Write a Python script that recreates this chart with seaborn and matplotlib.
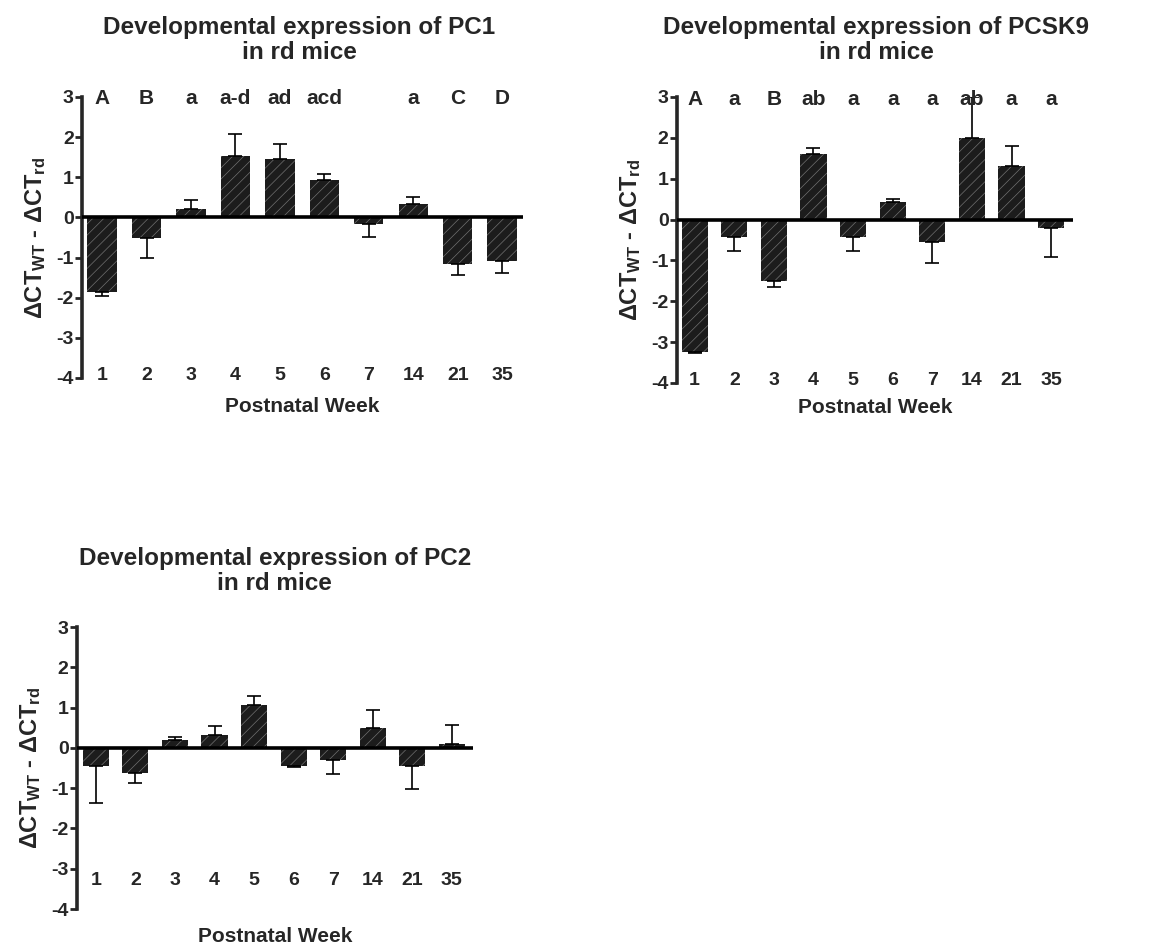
import matplotlib
matplotlib.use("Agg")
import matplotlib.pyplot as plt
import numpy as np
import pandas as pd
import seaborn as sns

weeks = ["1", "2", "3", "4", "5", "6", "7", "14", "21", "35"]

# PC1
pc1_mean = [-1.87, -0.52, 0.22, 1.52, 1.45, 0.92, -0.16, 0.33, -1.15, -1.09]
pc1_sem = [0.08, 0.48, 0.21, 0.55, 0.37, 0.15, 0.33, 0.19, 0.28, 0.30]
pc1_letters = ["A", "B", "a", "a-d", "ad", "acd", "", "a", "C", "D"]

# PCSK9
pcsk9_mean = [-3.23, -0.43, -1.50, 1.60, -0.42, 0.43, -0.56, 2.00, 1.32, -0.21]
pcsk9_sem = [0.03, 0.33, 0.16, 0.16, 0.34, 0.08, 0.50, 1.00, 0.47, 0.71]
pcsk9_letters = ["A", "a", "B", "ab", "a", "a", "a", "ab", "a", "a"]

# PC2
pc2_mean = [-0.45, -0.62, 0.19, 0.31, 1.07, -0.45, -0.31, 0.50, -0.44, 0.10]
pc2_sem = [0.91, 0.26, 0.08, 0.24, 0.23, 0.03, 0.33, 0.43, 0.59, 0.48]

sns.set_style("ticks")
plt.rcParams["font.family"] = ["Liberation Sans", "DejaVu Sans"]
plt.rcParams["font.weight"] = "bold"
plt.rcParams["axes.unicode_minus"] = False
plt.rcParams["mathtext.fontset"] = "custom"
plt.rcParams["mathtext.rm"] = "Liberation Sans:bold"
plt.rcParams["mathtext.bf"] = "Liberation Sans:bold"
plt.rcParams["mathtext.it"] = "Liberation Sans:bold"
plt.rcParams["hatch.linewidth"] = 0.5

fig = plt.figure(figsize=(11.59, 9.48), dpi=100)

ylab = r"$\Delta$CT$_{\mathbf{WT}}$ - $\Delta$CT$_{\mathbf{rd}}$"


def panel(rect, mean, sem, letters, title, title_xy, week_y, xlab_pad, xlim):
    ax = fig.add_axes(rect)
    df = pd.DataFrame({"week": weeks, "value": mean})
    sns.barplot(data=df, x="week", y="value", color="#1c1c1c", width=0.66,
                errorbar=None, ax=ax, saturation=1)
    for p in ax.patches:
        p.set_hatch("///")
        p.set_edgecolor("#707070")
        p.set_linewidth(0)
    m = np.array(mean)
    s = np.array(sem)
    lower = np.where(m < 0, s, 0)
    upper = np.where(m >= 0, s, 0)
    ax.errorbar(np.arange(len(weeks)), m, yerr=[lower, upper], fmt="none",
                ecolor="black", elinewidth=1.2, capsize=5, capthick=1.2)
    ax.axhline(0, color="black", lw=2.6, zorder=3)
    ax.set_ylim(-4, 3)
    ax.set_xlim(*xlim)
    ax.set_yticks(range(-4, 4))
    ax.tick_params(axis="y", labelsize=14, width=2, length=5, pad=1)
    ax.set_xticks([])
    for lbl in ax.get_yticklabels():
        lbl.set_fontweight("bold")
    sns.despine(ax=ax, bottom=True)
    ax.spines["left"].set_linewidth(2.6)
    ax.set_ylabel(ylab, fontsize=17, fontweight="bold", labelpad=6)
    ax.set_xlabel("Postnatal Week", fontsize=15, fontweight="bold", labelpad=xlab_pad)
    for i, w in enumerate(weeks):
        ax.text(i, week_y, w, ha="center", va="center", fontsize=14, fontweight="bold")
    if letters is not None:
        for i, t in enumerate(letters):
            ax.text(i, 2.95, t, ha="center", va="center", fontsize=15, fontweight="bold")
    fig.text(title_xy[0], title_xy[1], title, ha="center", va="center",
             fontsize=17.5, fontweight="bold", linespacing=1.1)
    return ax


panel([0.0708, 0.6013, 0.3805, 0.2964], pc1_mean, pc1_sem, pc1_letters,
      "Developmental expression of PC1\nin rd mice", (0.258, 0.958), -3.95, 14,
      (-0.45, 9.47))
panel([0.584, 0.596, 0.3417, 0.3017], pcsk9_mean, pcsk9_sem, pcsk9_letters,
      "Developmental expression of PCSK9\nin rd mice", (0.756, 0.958), -3.95, 11,
      (-0.45, 9.55))
panel([0.0664, 0.0411, 0.3417, 0.2975], pc2_mean, pc2_sem, None,
      "Developmental expression of PC2\nin rd mice", (0.237, 0.398), -3.3, 13,
      (-0.48, 9.54))

fig.savefig("out.png", dpi=100, facecolor="white")
